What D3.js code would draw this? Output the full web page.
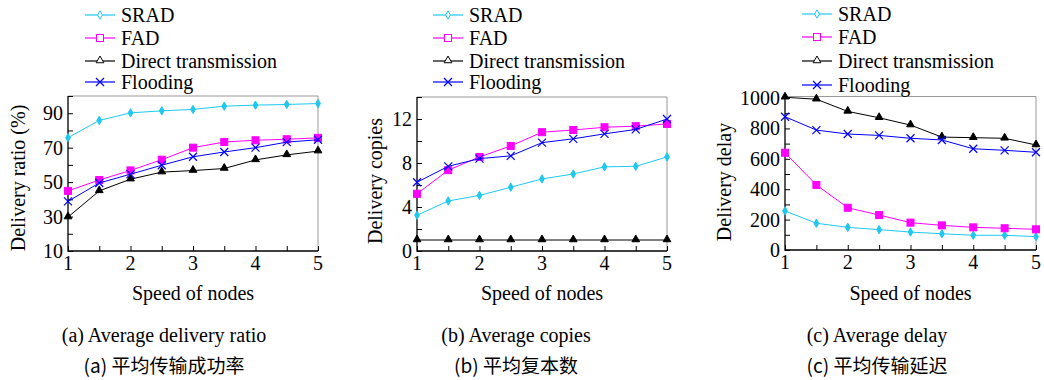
<!DOCTYPE html>
<html>
<head>
<meta charset="utf-8">
<script src="https://d3js.org/d3.v7.min.js"></script>
<style>
    body { margin: 0; background: #fff; }
    text { font-family: "Liberation Serif", "Times New Roman", serif; fill: #000; }
    .cjk { font-family: "Noto Sans CJK SC", sans-serif; }
</style>
</head>
<body>
<div id="chart"></div>
<script>
// x values (speed of nodes)
var speeds = [1, 1.5, 2, 2.5, 3, 3.5, 4, 4.5, 5];
var xTicks = [1, 2, 3, 4, 5];
var seriesNames = ["SRAD", "FAD", "Direct transmission", "Flooding"];

// (a) delivery ratio (%)
var ratioSRAD = [75.8, 85.8, 90.2, 91.4, 92.2, 94.1, 94.7, 95.1, 95.6];
var ratioFAD = [44.9, 51.2, 56.8, 63, 70, 73.3, 74.3, 74.9, 75.7];
var ratioDirect = [29.7, 44.9, 51.7, 55.8, 56.7, 57.9, 62.9, 65.8, 68];
var ratioFlooding = [38.8, 49.5, 54.6, 59.8, 64.7, 67.5, 70, 73.2, 74.6];
var ratioTicks = [10, 30, 50, 70, 90];

// (b) delivery copies
var copiesSRAD = [3.25, 4.55, 5.05, 5.8, 6.55, 7.0, 7.65, 7.7, 8.55];
var copiesFAD = [5.2, 7.35, 8.55, 9.55, 10.8, 11.0, 11.25, 11.35, 11.55];
var copiesDirect = [1, 1, 1, 1, 1, 1, 1, 1, 1];
var copiesFlooding = [6.25, 7.7, 8.4, 8.65, 9.85, 10.2, 10.65, 11.05, 12.0];
var copiesTicks = [0, 4, 8, 12];

// (c) delivery delay
var delaySRAD = [257, 176, 149, 134, 118, 107, 97, 97, 88];
var delayFAD = [640, 428, 278, 230, 180, 162, 149, 143, 136];
var delayDirect = [1005, 992, 912, 870, 822, 743, 739, 735, 691];
var delayFlooding = [877, 789, 763, 754, 735, 724, 666, 656, 643];
var delayTicks = [0, 200, 400, 600, 800, 1000];

var colors = ["#1ec8f0", "#ff00ff", "#000000", "#0000ff"];
var shapes = ["diamond", "square", "triangle", "cross"];

var width = 1044;
var height = 380;

var svg = d3.select("#chart").append("svg")
    .attr("width", width)
    .attr("height", height);

// draw the three panels
drawPanel({
    left: 68, right: 318, top: 96, bottom: 251,
    ydomain: [10, 100], minorStep: 10, ticks: ratioTicks,
    series: [ratioSRAD, ratioFAD, ratioDirect, ratioFlooding],
    ylabel: "Delivery ratio (%)", ylabelX: 19, ylabelY: 178,
    legendX: 85, legendRows: [15, 38, 61, 82],
    caption: "(a) Average delivery ratio", captionCn: "(a)\u00a0平均传输成功率", captionX: 164
});
drawPanel({
    left: 417, right: 667, top: 97, bottom: 251,
    ydomain: [0, 14], minorStep: 2, ticks: copiesTicks,
    series: [copiesSRAD, copiesFAD, copiesDirect, copiesFlooding],
    ylabel: "Delivery copies", ylabelX: 376, ylabelY: 181,
    legendX: 433, legendRows: [15, 38, 61, 82],
    caption: "(b) Average copies", captionCn: "(b)\u00a0平均复本数", captionX: 516
});
drawPanel({
    left: 785, right: 1036, top: 96.5, bottom: 250,
    ydomain: [0, 1010], minorStep: 100, ticks: delayTicks,
    series: [delaySRAD, delayFAD, delayDirect, delayFlooding],
    ylabel: "Delivery delay", ylabelX: 725, ylabelY: 182,
    legendX: 802, legendRows: [14, 37, 61, 85],
    caption: "(c) Average delay", captionCn: "(c)\u00a0平均传输延迟", captionX: 877
});

function marker(g, shape, x, y, color, filled) {
    // draw one point marker
    var fill = filled ? color : "#fff";
    if (shape === "diamond") {
        g.append("path").attr("d", d3.symbol(d3.symbolDiamond, 20)())
            .attr("transform", "translate(" + x + "," + y + ")")
            .attr("fill", fill).attr("stroke", color).attr("stroke-width", 1);
    } else if (shape === "square") {
        g.append("rect").attr("x", x - 3.5).attr("y", y - 3.5)
            .attr("width", 7).attr("height", 7)
            .attr("fill", fill).attr("stroke", color).attr("stroke-width", 1);
    } else if (shape === "triangle") {
        g.append("path").attr("d", d3.symbol(d3.symbolTriangle, 26)())
            .attr("transform", "translate(" + x + "," + (y - 0.5) + ")")
            .attr("fill", fill).attr("stroke", color).attr("stroke-width", 1);
    } else {
        g.append("path")
            .attr("d", "M" + (x - 4) + "," + (y - 4) + "L" + (x + 4) + "," + (y + 4) +
                "M" + (x - 4) + "," + (y + 4) + "L" + (x + 4) + "," + (y - 4))
            .attr("stroke", color).attr("stroke-width", 1.2);
    }
}

function drawPanel(p) {
    var xscale = d3.scaleLinear().domain([1, 5]).range([p.left, p.right]);
    var yscale = d3.scaleLinear().domain(p.ydomain).range([p.bottom, p.top]);
    var g = svg.append("g");

    // gray frame on top and right
    g.append("path")
        .attr("d", "M" + p.left + "," + p.top + "H" + p.right + "V" + p.bottom)
        .attr("fill", "none").attr("stroke", "#999").attr("stroke-width", 1);

    // minor ticks on y, pointing inside
    var minor = d3.range(p.ydomain[0], p.ydomain[1] + 0.001, p.minorStep);
    var yaxis = d3.axisLeft(yscale).tickValues(minor).tickSize(-5).tickFormat("");
    g.append("g").attr("transform", "translate(" + p.left + ",0)").call(yaxis)
        .call(function(a) { a.select(".domain").remove(); })
        .selectAll("line").attr("stroke", "#000");

    // y tick labels
    g.selectAll(".ylab").data(p.ticks).enter().append("text")
        .attr("x", p.left - 5)
        .attr("y", function(d) { return yscale(d); })
        .attr("dy", "0.35em")
        .attr("text-anchor", "end")
        .style("font-size", "20px")
        .text(function(d) { return d; });

    // x ticks every 0.5, labels on integers
    var xaxis = d3.axisBottom(xscale).tickValues(speeds).tickSize(-5).tickFormat("");
    g.append("g").attr("transform", "translate(0," + p.bottom + ")").call(xaxis)
        .call(function(a) { a.select(".domain").remove(); })
        .selectAll("line").attr("stroke", "#000");
    g.selectAll(".xlab").data(xTicks).enter().append("text")
        .attr("x", function(d) { return xscale(d); })
        .attr("y", p.bottom + 19)
        .attr("text-anchor", "middle")
        .style("font-size", "20px")
        .text(function(d) { return d; });

    // black axis lines
    g.append("path")
        .attr("d", "M" + p.left + "," + p.top + "V" + p.bottom + "H" + p.right)
        .attr("fill", "none").attr("stroke", "#000").attr("stroke-width", 1.3);

    // series lines and markers
    var line = d3.line()
        .x(function(d, i) { return xscale(speeds[i]); })
        .y(function(d) { return yscale(d); });
    p.series.forEach(function(values, s) {
        g.append("path").attr("d", line(values))
            .attr("fill", "none").attr("stroke", colors[s]).attr("stroke-width", 1);
        values.forEach(function(v, i) {
            marker(g, shapes[s], xscale(speeds[i]), yscale(v), colors[s], true);
        });
    });

    // legend
    seriesNames.forEach(function(name, s) {
        var y = p.legendRows[s];
        g.append("line").attr("x1", p.legendX).attr("x2", p.legendX + 30)
            .attr("y1", y).attr("y2", y)
            .attr("stroke", colors[s]).attr("stroke-width", 1.2);
        marker(g, shapes[s], p.legendX + 15, y, colors[s], false);
        g.append("text").attr("x", p.legendX + 36).attr("y", y + 6.5)
            .style("font-size", "20px").text(name);
    });

    // axis labels
    g.append("text")
        .attr("transform", "translate(" + (p.ylabelX + 6) + "," + p.ylabelY + ") rotate(-90)")
        .attr("text-anchor", "middle")
        .style("font-size", "20px")
        .text(p.ylabel);
    g.append("text")
        .attr("x", (p.left + p.right) / 2)
        .attr("y", 300)
        .attr("text-anchor", "middle")
        .style("font-size", "20px")
        .text("Speed of nodes");

    // captions
    svg.append("text").attr("x", p.captionX).attr("y", 342)
        .attr("text-anchor", "middle").style("font-size", "20px")
        .text(p.caption);
    svg.append("text").attr("x", p.captionX).attr("y", 373)
        .attr("text-anchor", "middle").style("font-size", "19px")
        .attr("class", "cjk")
        .text(p.captionCn);
}
</script>
</body>
</html>
